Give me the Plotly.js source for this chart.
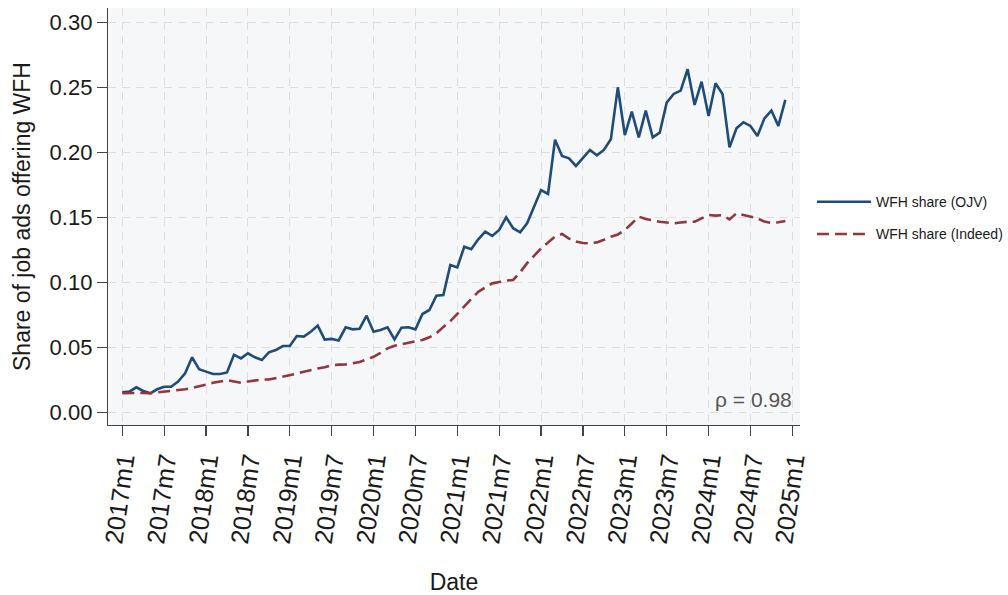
<!DOCTYPE html>
<html>
<head>
<meta charset="utf-8">
<script src="https://cdn.plot.ly/plotly-3.0.1.min.js"></script>
<style>
html,body{margin:0;padding:0;background:#fff;}
#chart{width:1008px;height:595px;}
</style>
</head>
<body>
<div id="chart"></div>
<script>
// Month index 0 = 2017m1 ... 95 = 2024m12
const monthIndex = [];
for (let i = 0; i < 96; i++) monthIndex.push(i);

const wfhOJV = [
  0.0157, 0.0162, 0.0195, 0.0167, 0.0149, 0.0180, 0.0200, 0.0200, 0.0239, 0.0303, 0.0426, 0.0334,
  0.0316, 0.0298, 0.0298, 0.0310, 0.0446, 0.0418, 0.0457, 0.0426, 0.0405, 0.0464, 0.0482, 0.0513,
  0.0513, 0.0590, 0.0585, 0.0623, 0.0670, 0.0562, 0.0568, 0.0556, 0.0657, 0.0641, 0.0646, 0.0746,
  0.0623, 0.0636, 0.0657, 0.0564, 0.0654, 0.0657, 0.0641, 0.0759, 0.0790, 0.0900, 0.0905, 0.1136,
  0.1118, 0.1277, 0.1257, 0.1334, 0.1393, 0.1360, 0.1406, 0.1503, 0.1419, 0.1388, 0.1457, 0.1585,
  0.1713, 0.1683, 0.2100, 0.1975, 0.1957, 0.1898, 0.1957, 0.2021, 0.1980, 0.2021, 0.2103, 0.2503,
  0.2136, 0.2316, 0.2118, 0.2324, 0.2118, 0.2154, 0.2385, 0.2452, 0.2478, 0.2642, 0.2367, 0.2546,
  0.2282, 0.2534, 0.2452, 0.2041, 0.2188, 0.2234, 0.2206, 0.2129, 0.2264, 0.2324, 0.2206, 0.2406
];

const wfhIndeed = [
  0.0150, 0.0152, 0.0154, 0.0152, 0.0150, 0.0155, 0.0160, 0.0165, 0.0170, 0.0180, 0.0190, 0.0200,
  0.0215, 0.0230, 0.0240, 0.0250, 0.0240, 0.0230, 0.0240, 0.0250, 0.0255, 0.0255, 0.0265, 0.0280,
  0.0290, 0.0300, 0.0315, 0.0330, 0.0340, 0.0350, 0.0365, 0.0370, 0.0372, 0.0380, 0.0390, 0.0410,
  0.0430, 0.0460, 0.0495, 0.0515, 0.0526, 0.0535, 0.0546, 0.0560, 0.0580, 0.0610, 0.0660, 0.0705,
  0.0760, 0.0820, 0.0875, 0.0930, 0.0965, 0.0995, 0.1005, 0.1016, 0.1021, 0.1080, 0.1150, 0.1210,
  0.1264, 0.1310, 0.1355, 0.1375, 0.1340, 0.1316, 0.1305, 0.1303, 0.1310, 0.1330, 0.1354, 0.1370,
  0.1405, 0.1455, 0.1508, 0.1490, 0.1477, 0.1469, 0.1463, 0.1457, 0.1463, 0.1469, 0.1469, 0.1495,
  0.1521, 0.1516, 0.1520, 0.1487, 0.1534, 0.1520, 0.1510, 0.1495, 0.1470, 0.1460, 0.1465, 0.1475
];

const xTickVals = [0, 6, 12, 18, 24, 30, 36, 42, 48, 54, 60, 66, 72, 78, 84, 90, 96];
const xTickLabels = ["2017m1","2017m7","2018m1","2018m7","2019m1","2019m7","2020m1","2020m7",
  "2021m1","2021m7","2022m1","2022m7","2023m1","2023m7","2024m1","2024m7","2025m1"];
const yTickVals = [0, 0.05, 0.10, 0.15, 0.20, 0.25, 0.30];
const yTickLabels = ["0.00","0.05","0.10","0.15","0.20","0.25","0.30"];
const seriesNames = ["WFH share (OJV)", "WFH share (Indeed)"];
const rhoLabel = "ρ = 0.98";

const FONT = "Liberation Sans, Arial, sans-serif";

const traces = [
  {
    x: monthIndex, y: wfhOJV, type: "scatter", mode: "lines", name: seriesNames[0],
    legendgroup: "a",
    line: {color: "#1f4c78", width: 2.6}
  },
  {
    x: monthIndex, y: wfhIndeed, type: "scatter", mode: "lines", name: seriesNames[1],
    legendgroup: "b",
    line: {color: "#93363d", width: 2.6, dash: "12px,6px"}
  }
];

const layout = {
  width: 1008, height: 595,
  margin: {l: 108, r: 208, t: 8, b: 170, autoexpand: false},
  paper_bgcolor: "#ffffff",
  plot_bgcolor: "#f6f7f9",
  font: {family: FONT, color: "#1a1a1a"},
  showlegend: true,
  legend: {
    x: 1.0173, xanchor: "left", y: 0.496, yanchor: "middle",
    font: {family: FONT, size: 14, color: "#1a1a1a"},
    bgcolor: "rgba(0,0,0,0)",
    tracegroupgap: 11,
    itemwidth: 54
  },
  xaxis: {
    range: [-2.05, 97.1],
    tickmode: "array", tickvals: xTickVals, ticktext: xTickLabels,
    tickangle: -82,
    tickfont: {family: FONT, size: 25, color: "#1a1a1a"},
    ticks: "outside", ticklen: 10, tickwidth: 1.2, tickcolor: "#444",
    showline: true, linecolor: "#444", linewidth: 1.2,
    showgrid: true, gridcolor: "#dedede", gridwidth: 1, griddash: "8px,6px",
    zeroline: false,
    title: {text: "Date", font: {family: FONT, size: 23, color: "#1a1a1a"}, standoff: 36}
  },
  yaxis: {
    range: [-0.00946, 0.3113],
    tickmode: "array", tickvals: yTickVals, ticktext: yTickLabels,
    tickfont: {family: FONT, size: 22, color: "#1a1a1a"},
    ticks: "outside", ticklen: 10, tickwidth: 1.2, tickcolor: "#444",
    showline: true, linecolor: "#444", linewidth: 1.2,
    showgrid: true, gridcolor: "#dedede", gridwidth: 1, griddash: "8px,6px",
    zeroline: false,
    title: {text: "Share of job ads offering WFH", font: {family: FONT, size: 23, color: "#1a1a1a"}, standoff: 12}
  },
  annotations: [
    {
      xref: "x", yref: "y", x: 96.2, y: 0.0098,
      xanchor: "right", yanchor: "middle",
      text: rhoLabel, showarrow: false,
      font: {family: FONT, size: 21, color: "#555"}
    }
  ]
};

Plotly.newPlot("chart", traces, layout, {displayModeBar: false, staticPlot: true});
</script>
</body>
</html>
